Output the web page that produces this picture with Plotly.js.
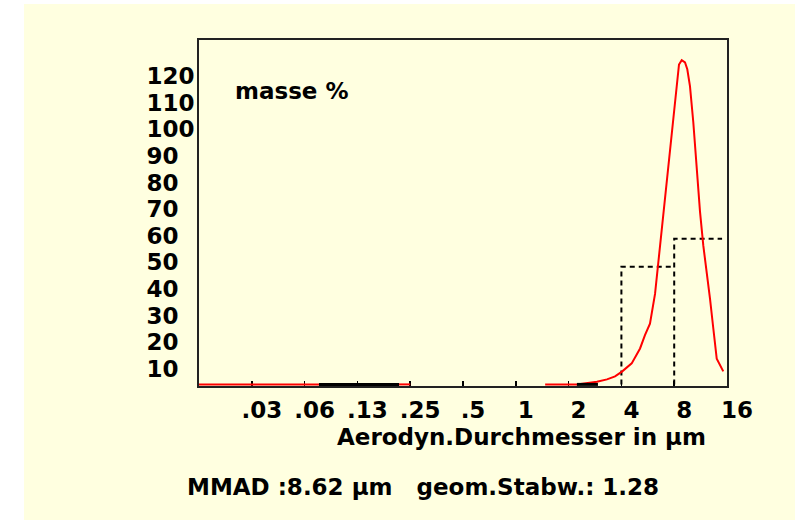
<!DOCTYPE html>
<html>
<head>
<meta charset="utf-8">
<script src="https://cdn.plot.ly/plotly-3.0.1.min.js"></script>
<style>html,body{margin:0;padding:0;background:#fff;}#chart{width:795px;height:520px;}</style>
</head>
<body>
<div id="chart"></div>
<script>
// Tick definitions
const xTickVals = [0.03125, 0.0625, 0.125, 0.25, 0.5, 1, 2, 4, 8, 16];
const xTickText = ['.03', '.06', '.13', '.25', '.5', '1', '2', '4', '8', '16'];
const yTickVals = [10, 20, 30, 40, 50, 60, 70, 80, 90, 100, 110, 120];
const yTickText = ['10\u2007', '20\u2007', '30\u2007', '40\u2007', '50\u2007', '60\u2007', '70\u2007', '80\u2007', '90\u2007', '100', '110', '120'];

// Red distribution curve (mass % vs aerodynamic diameter, µm)
const curveX = [0.0156, 0.0755, null, 0.216, 0.25, null, 1.47, 2.23, 2.90, 3.31, 3.68, 4.03, 4.58, 5.11, 5.45, 5.82, 6.22, 6.49, 6.64, 6.93, 7.40, 7.74, 7.91, 8.27, 8.52, 8.83, 9.22, 9.50, 9.84, 10.28, 10.75, 11.23, 11.72, 12.26, 12.80, 13.37, 13.98, 15.24];
const curveY = [0, 0, null, 0, 0, null, 0, 0, 1.0, 1.9, 3.0, 4.8, 7.9, 13.5, 18.5, 22.8, 34.0, 45.8, 51.9, 64.2, 82.6, 95.0, 101.1, 113.5, 120.2, 121.8, 121.0, 118.4, 112.1, 98.5, 79.8, 64.8, 52.2, 42.3, 32.2, 21.0, 9.7, 4.9];

// Empty stages drawn as solid black at zero
const zeroX = [0.0755, 0.216, null, 2.23, 2.94];
const zeroY = [0, 0, null, 0, 0];

// Dashed stage histogram
const binX = [4, 4, 8, null, 8, 8, 15];
const binY = [0, 44.2, 44.2, null, 0, 54.7, 54.7];

const fontFam = 'DejaVu Sans, Liberation Sans, sans-serif';
const bg = '#FFFFE0';

const traces = [
  {x: binX, y: binY, mode: 'lines', line: {color: '#000', width: 2, dash: '5px,4px'}, hoverinfo: 'skip'},
  {x: curveX, y: curveY, mode: 'lines', line: {color: '#FF0000', width: 2}, connectgaps: false, hoverinfo: 'skip'},
  {x: zeroX, y: zeroY, mode: 'lines', line: {color: '#000', width: 3}, connectgaps: false, hoverinfo: 'skip'}
];

const layout = {
  width: 795, height: 520,
  margin: {l: 199, r: 68, t: 40, b: 134, pad: 0},
  paper_bgcolor: bg,
  plot_bgcolor: bg,
  showlegend: false,
  font: {family: fontFam, size: 23, color: '#000', weight: 'bold'},
  xaxis: {
    type: 'log',
    range: [Math.log10(1/64), Math.log10(16)],
    tickvals: xTickVals, ticktext: xTickText,
    ticks: 'inside', ticklen: 5, tickwidth: 1.5, tickcolor: '#000',
    showgrid: false, zeroline: false,
    showline: true, linecolor: '#222', linewidth: 2, mirror: true,
    layer: 'below traces',
    ticklabelshift: 10, ticklabelstandoff: 2,
    tickfont: {family: fontFam, size: 23, color: '#000', weight: 'bold'}
  },
  yaxis: {
    range: [-0.6, 129.4],
    tickvals: yTickVals, ticktext: yTickText,
    ticks: '', showgrid: false, zeroline: false,
    showline: true, linecolor: '#222', linewidth: 2, mirror: true,
    layer: 'below traces',
    ticklabelshift: 11, ticklabelstandoff: -2,
    tickfont: {family: fontFam, size: 23, color: '#000', weight: 'bold'}
  },
  shapes: [
    {type: 'rect', xref: 'paper', yref: 'paper', x0: -0.5, x1: -0.3314, y0: -0.5, y1: 1.3, fillcolor: '#fff', line: {width: 0}, layer: 'below'},
    {type: 'rect', xref: 'paper', yref: 'paper', x0: -0.5, x1: 1.3, y0: 1.104, y1: 1.3, fillcolor: '#fff', line: {width: 0}, layer: 'below'}
  ],
  annotations: [
    {text: 'masse %', xref: 'paper', yref: 'paper', x: 0.176, y: 0.853, xanchor: 'center', yanchor: 'middle', showarrow: false,
     font: {family: fontFam, size: 23, color: '#000', weight: 'bold'}},
    {text: 'Aerodyn.Durchmesser in µm', xref: 'paper', yref: 'paper', x: 0.61, y: -0.147, xanchor: 'center', yanchor: 'middle', showarrow: false,
     font: {family: fontFam, size: 23, color: '#000', weight: 'bold'}},
    {text: 'MMAD :8.62 µm   geom.Stabw.: 1.28', xref: 'paper', yref: 'paper', x: 0.425, y: -0.292, xanchor: 'center', yanchor: 'middle', showarrow: false,
     font: {family: fontFam, size: 23, color: '#000', weight: 'bold'}}
  ]
};

Plotly.newPlot('chart', traces, layout, {staticPlot: true, displayModeBar: false});
</script>
</body>
</html>
